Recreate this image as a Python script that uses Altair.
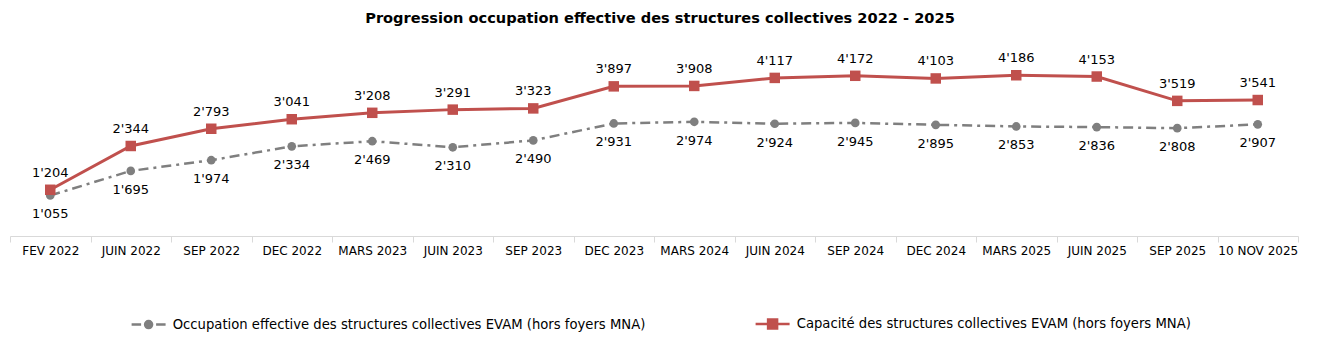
import altair as alt
import pandas as pd

categories = ["FEV 2022", "JUIN 2022", "SEP 2022", "DEC 2022", "MARS 2023", "JUIN 2023",
              "SEP 2023", "DEC 2023", "MARS 2024", "JUIN 2024", "SEP 2024", "DEC 2024",
              "MARS 2025", "JUIN 2025", "SEP 2025", "10 NOV 2025"]
occupation = [1055, 1695, 1974, 2334, 2469, 2310, 2490, 2931, 2974, 2924, 2945, 2895,
              2853, 2836, 2808, 2907]
capacite = [1204, 2344, 2793, 3041, 3208, 3291, 3323, 3897, 3908, 4117, 4172, 4103,
            4186, 4153, 3519, 3541]
series_names = ["Occupation effective des structures collectives EVAM (hors foyers MNA)",
                "Capacité des structures collectives EVAM (hors foyers MNA)"]
colors = ["#7f7f7f", "#c0504d"]

FONT = "DejaVu Sans"


def fmt(v):
    return f"{v:,}".replace(",", "'")


df_occ = pd.DataFrame({"cat": categories, "val": occupation,
                       "lab": [fmt(v) for v in occupation]})
df_cap = pd.DataFrame({"cat": categories, "val": capacite,
                       "lab": [fmt(v) for v in capacite]})
df_leg = pd.DataFrame({"serie": series_names})

x_enc = alt.X("cat:N", sort=categories,
              scale=alt.Scale(type="band", paddingInner=0, paddingOuter=0),
              axis=alt.Axis(title=None, labelAngle=0, tickBand="extent",
                            domainColor="#d9d9d9", tickColor="#d9d9d9", tickSize=6,
                            domainWidth=1, labelFont=FONT, labelFontSize=12,
                            labelColor="#000000", labelPadding=3))
y_enc = alt.Y("val:Q", scale=alt.Scale(domain=[0, 5000]), axis=None)

occ_line = alt.Chart(df_occ).mark_line(color=colors[0], strokeWidth=2.5,
                                       strokeDash=[10, 5, 3, 5]).encode(x=x_enc, y=y_enc)
occ_pts = alt.Chart(df_occ).mark_point(filled=True, shape="circle", size=75,
                                       color=colors[0], opacity=1).encode(x=x_enc, y=y_enc)
cap_line = alt.Chart(df_cap).mark_line(color=colors[1], strokeWidth=3).encode(x=x_enc, y=y_enc)
cap_pts = alt.Chart(df_cap).mark_point(filled=True, shape="square", size=110,
                                       color=colors[1], opacity=1).encode(x=x_enc, y=y_enc)
cap_txt = alt.Chart(df_cap).mark_text(dy=-17, font=FONT, fontSize=13,
                                      color="#000000").encode(x=x_enc, y=y_enc, text="lab:N")
occ_txt = alt.Chart(df_occ).mark_text(dy=19, font=FONT, fontSize=13,
                                      color="#000000").encode(x=x_enc, y=y_enc, text="lab:N")

path_occ = ("M-3.4,0L-1.5,0M1.5,0L3.4,0"
            "M0.7,0A0.7,0.7,0,1,1,-0.7,0A0.7,0.7,0,1,1,0.7,0Z")
path_cap = "M-3.4,0L3.4,0M-0.9,-0.9L0.9,-0.9L0.9,0.9L-0.9,0.9Z"

leg_scale_c = alt.Scale(domain=series_names, range=colors)
legend = alt.Legend(title=None, orient="none", legendX=120, legendY=273,
                    direction="horizontal", columns=2, columnPadding=104,
                    padding=0, symbolOffset=12, labelOffset=17.5, symbolSize=100,
                    symbolStrokeWidth=2.5, labelFont=FONT, labelFontSize=13.2,
                    labelColor="#000000", labelLimit=0)
leg_layer = alt.Chart(df_leg).transform_filter("false").mark_point(
    size=100, strokeWidth=2.5, opacity=1).encode(
    x=alt.value(0), y=alt.value(0),
    fill=alt.Fill("serie:N", scale=leg_scale_c, legend=legend),
    stroke=alt.Stroke("serie:N", scale=leg_scale_c, legend=legend),
    shape=alt.Shape("serie:N", scale=alt.Scale(domain=series_names,
                                               range=[path_occ, path_cap]),
                    legend=legend),
)

chart = alt.layer(occ_line, cap_line, occ_pts, cap_pts, cap_txt, occ_txt, leg_layer).properties(
    width=1288, height=192,
    background="#ffffff",
    title=alt.Title("Progression occupation effective des structures collectives 2022 - 2025",
                    font=FONT, fontSize=14.6, fontWeight="bold", color="#000000",
                    anchor="middle", offset=18, dx=6),
    autosize=alt.AutoSizeParams(type="none"),
    padding={"left": 2, "top": 36, "right": 14, "bottom": 113},
).configure_view(stroke=None, strokeWidth=0)

chart.save("out.html", embed_options={"renderer": "svg", "actions": False})
